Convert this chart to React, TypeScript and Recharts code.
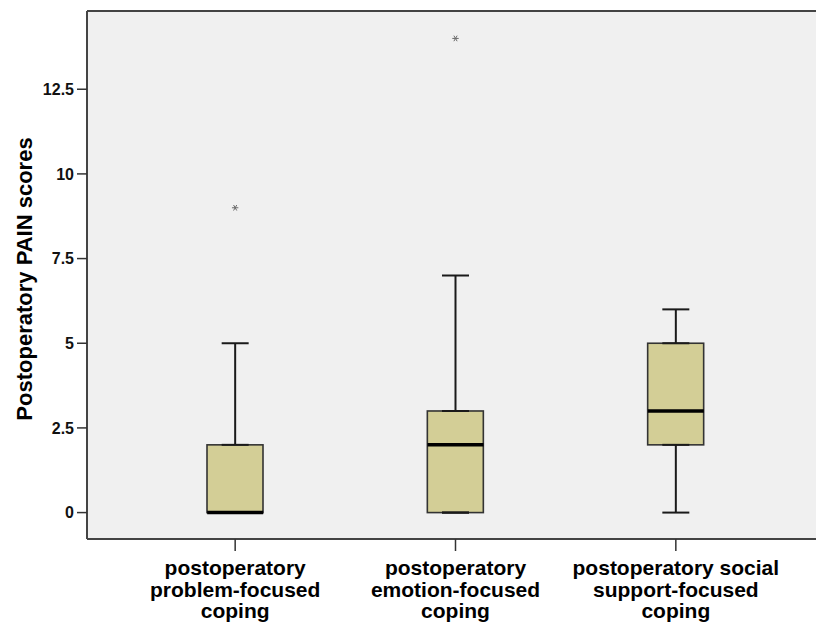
import React from 'react';
import { ComposedChart, Bar, Scatter, XAxis, YAxis, ErrorBar, CartesianGrid, ReferenceLine } from 'recharts';

const categories = [
  'postoperatory problem-focused coping',
  'postoperatory emotion-focused coping',
  'postoperatory social support-focused coping',
];
const tickLabelLines = [
  ['postoperatory', 'problem-focused', 'coping'],
  ['postoperatory', 'emotion-focused', 'coping'],
  ['postoperatory social', 'support-focused', 'coping'],
];
const minValues = [0, 0, 0];
const q1Values = [0, 0, 2];
const medianValues = [0, 2, 3];
const q3Values = [2, 3, 5];
const maxValues = [5, 7, 6];
const outlierValues: (number | null)[] = [9, 14, null];
const yTicks = [0, 2.5, 5, 7.5, 10, 12.5];
const yDomain: [number, number] = [-0.78, 14.81];
const yLabel = 'Postoperatory PAIN scores';

const data = categories.map((name, i) => ({
  name,
  box: [q1Values[i], q3Values[i]],
  q1: q1Values[i],
  q3: q3Values[i],
  median: medianValues[i],
  lowerErr: [q1Values[i] - minValues[i], 0],
  upperErr: [0, maxValues[i] - q3Values[i]],
  outlier: outlierValues[i],
}));

const FONT = '"Liberation Sans", Arial, sans-serif';
const BOX_W = 56;

const BoxShape = (props: any) => {
  const { x, y, width, height } = props;
  return <rect x={x} y={y} width={width} height={height} fill="#D3CE96" stroke="#333" strokeWidth={1.6} />;
};

const MedianShape = (props: any) => {
  const { cx, cy } = props;
  if (cx == null || cy == null) return <g />;
  return <line x1={cx - BOX_W / 2} x2={cx + BOX_W / 2} y1={cy} y2={cy} stroke="#000" strokeWidth={3.5} />;
};

const HiddenShape = () => <g />;

const OutlierShape = (props: any) => {
  const { cx, cy, payload } = props;
  if (!payload || payload.outlier == null || cx == null || cy == null) return <g />;
  const r = 3.2;
  const lines = [0, 60, 120].map((a) => {
    const rad = (a * Math.PI) / 180;
    return (
      <line key={a} x1={cx - r * Math.cos(rad)} y1={cy - r * Math.sin(rad)} x2={cx + r * Math.cos(rad)} y2={cy + r * Math.sin(rad)} stroke="#6a6a6a" strokeWidth={1} />
    );
  });
  return <g>{lines}</g>;
};

const CategoryTick = (props: any) => {
  const { x, y, payload } = props;
  const idx = categories.indexOf(payload.value);
  const lines = idx >= 0 ? tickLabelLines[idx] : [String(payload.value)];
  return (
    <text x={x} y={y + 22} textAnchor="middle" fontFamily={FONT} fontWeight="bold" fontSize={21} fill="#000">
      {lines.map((l, i) => (
        <tspan key={i} x={x} dy={i === 0 ? 0 : 21.5}>{l}</tspan>
      ))}
    </text>
  );
};

const YLabel = (props: any) => {
  const vb = props.viewBox || { x: 0, y: 11, width: 87, height: 528 };
  const cx = vb.x + 24;
  const cy = vb.y + vb.height / 2 + 4;
  return (
    <text x={cx} y={cy} transform={`rotate(-90, ${cx}, ${cy})`} textAnchor="middle" dominantBaseline="central" fontFamily={FONT} fontWeight="bold" fontSize={22} fill="#000">
      {yLabel}
    </text>
  );
};

export default function App() {
  return (
    <div style={{ position: 'absolute', left: 0, top: 0, width: 816, height: 625, background: '#fff' }}>
      <ComposedChart width={816} height={625} data={data} margin={{ top: 11, right: 0, bottom: 0, left: 0 }}>
        <CartesianGrid fill="#F0F0F0" stroke="none" />
        <XAxis
          dataKey="name"
          type="category"
          padding={{ left: 38, right: 30 }}
          height={86}
          tickSize={12}
          tickMargin={2}
          axisLine={{ stroke: '#444', strokeWidth: 2 }}
          tickLine={{ stroke: '#333', strokeWidth: 1.5 }}
          tick={<CategoryTick />}
          interval={0}
        />
        <YAxis
          type="number"
          domain={yDomain}
          allowDataOverflow
          ticks={yTicks}
          width={87}
          tickSize={10}
          tickMargin={3}
          axisLine={{ stroke: '#444', strokeWidth: 2 }}
          tickLine={{ stroke: '#333', strokeWidth: 1.5 }}
          tick={{ fontFamily: FONT, fontWeight: 'bold', fontSize: 16, fill: '#111' }}
          label={{ content: <YLabel /> }}
        />
        <ReferenceLine y={yDomain[1]} stroke="#444" strokeWidth={2} />
        <Scatter dataKey="q3" shape={HiddenShape} isAnimationActive={false}>
          <ErrorBar dataKey="upperErr" direction="y" width={13.5} stroke="#1a1a1a" strokeWidth={2} isAnimationActive={false} />
        </Scatter>
        <Scatter dataKey="q1" shape={HiddenShape} isAnimationActive={false}>
          <ErrorBar dataKey="lowerErr" direction="y" width={13.5} stroke="#1a1a1a" strokeWidth={2} isAnimationActive={false} />
        </Scatter>
        <Bar dataKey="box" barSize={BOX_W} shape={BoxShape} isAnimationActive={false} />
        <Scatter dataKey="median" shape={MedianShape} isAnimationActive={false} />
        <Scatter dataKey="outlier" shape={OutlierShape} isAnimationActive={false} />
      </ComposedChart>
    </div>
  );
}
